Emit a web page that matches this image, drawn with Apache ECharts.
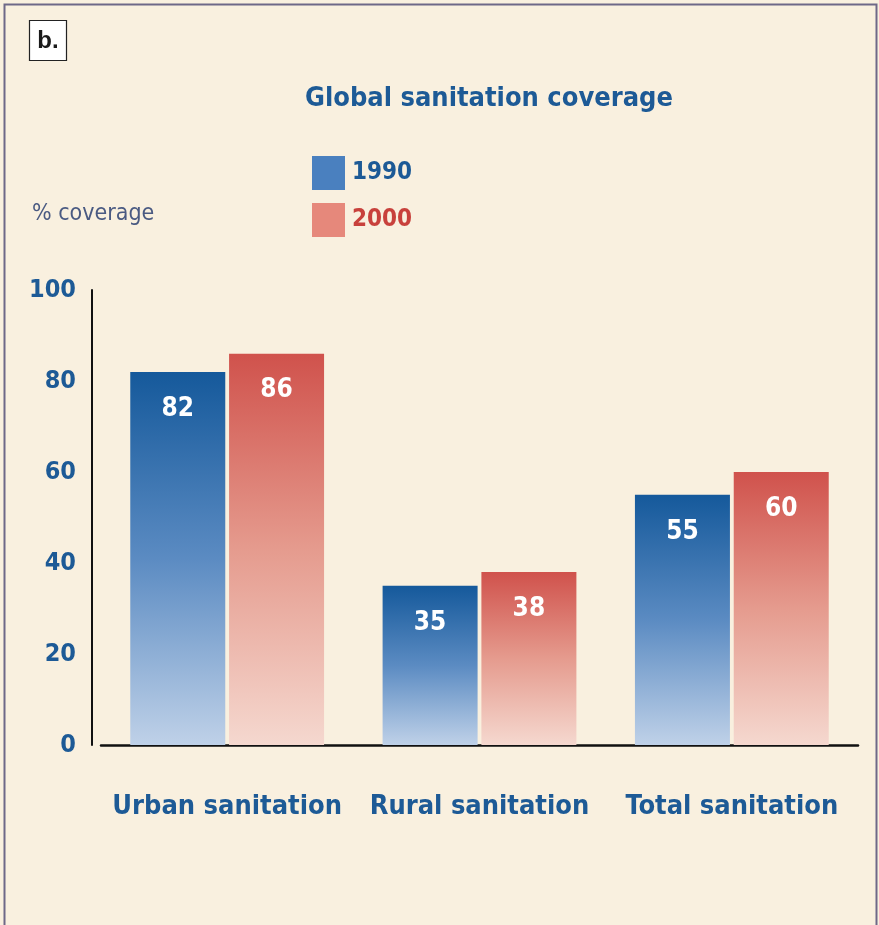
<!DOCTYPE html>
<html>
<head>
<meta charset="utf-8">
<script src="https://cdn.jsdelivr.net/npm/echarts@6/dist/echarts.min.js"></script>
<style>
  html, body { margin: 0; padding: 0; background: #f7c9c0; }
  #chart { width: 879px; height: 925px; }
</style>
</head>
<body>
<div id="chart"></div>
<script>
// Global sanitation coverage, % of population
const categories = ['Urban sanitation', 'Rural sanitation', 'Total sanitation'];
const seriesNames = ['1990', '2000'];
const values1990 = [82, 35, 55];
const values2000 = [86, 38, 60];
const yTicks = [0, 20, 40, 60, 80, 100];

const FONT = '"DejaVu Sans Condensed", "Liberation Sans Narrow", "Roboto Condensed", sans-serif';
const BLUE = '#1d5a96';
const RED = '#c8413c';

const blueGrad = new echarts.graphic.LinearGradient(0, 0, 0, 1, [
  { offset: 0, color: '#15599b' },
  { offset: 0.5, color: '#5b8bc2' },
  { offset: 1, color: '#bfd1e8' }
]);
const redGrad = new echarts.graphic.LinearGradient(0, 0, 0, 1, [
  { offset: 0, color: '#d0524c' },
  { offset: 0.5, color: '#e59b8e' },
  { offset: 1, color: '#f5d8cf' }
]);

const chart = echarts.init(document.getElementById('chart'), null, { renderer: 'canvas' });

const barLabel = {
  show: true,
  position: 'insideTop',
  distance: 24,
  color: '#ffffff',
  fontFamily: FONT,
  fontWeight: 'bold',
  fontSize: 26
};

chart.setOption({
  backgroundColor: '#f9f0df',
  animation: false,
  title: {
    text: 'Global sanitation coverage',
    left: 484,
    top: 80,
    textAlign: 'center',
    textStyle: { color: BLUE, fontFamily: FONT, fontWeight: 'bold', fontSize: 27 }
  },
  legend: {
    data: [
      { name: seriesNames[0], itemStyle: { color: '#4a80bf' } },
      { name: seriesNames[1], itemStyle: { color: '#e6887b' } }
    ],
    orient: 'vertical',
    left: 307,
    top: 151,
    itemWidth: 33,
    itemHeight: 34,
    itemGap: 13,
    icon: 'rect',
    formatter: n => n === '1990' ? '{b|' + n + '}' : '{r|' + n + '}',
    textStyle: {
      rich: {
        b: { color: BLUE, fontFamily: FONT, fontWeight: 'bold', fontSize: 24, padding: [0, 0, 0, 2] },
        r: { color: RED, fontFamily: FONT, fontWeight: 'bold', fontSize: 24, padding: [0, 0, 0, 2] }
      }
    }
  },
  grid: { left: 101, right: 21, top: 290, bottom: 180 },
  xAxis: {
    type: 'category',
    data: categories,
    axisLine: { show: true, lineStyle: { color: '#111', width: 2.5 } },
    axisTick: { show: false },
    axisLabel: {
      interval: 0,
      color: BLUE, fontFamily: FONT, fontWeight: 'bold', fontSize: 27,
      margin: 48
    }
  },
  yAxis: {
    type: 'value',
    min: 0,
    max: 100,
    interval: 20,
    offset: 9,
    name: '% coverage',
    nameLocation: 'end',
    nameGap: 64,
    nameTextStyle: {
      color: '#4a5a82', fontFamily: FONT, fontSize: 23, align: 'left',
      padding: [0, 0, 0, -60]
    },
    axisLine: { show: true, lineStyle: { color: '#111', width: 2 } },
    axisTick: { show: false },
    splitLine: { show: false },
    axisLabel: {
      color: BLUE, fontFamily: FONT, fontWeight: 'bold', fontSize: 25,
      margin: 16,
      verticalAlign: 'middle'
    }
  },
  series: [
    {
      name: seriesNames[0],
      type: 'bar',
      data: values1990,
      barWidth: 95,
      barGap: '4%',
      itemStyle: { color: blueGrad },
      label: barLabel
    },
    {
      name: seriesNames[1],
      type: 'bar',
      data: values2000,
      barWidth: 95,
      barGap: '4%',
      itemStyle: { color: redGrad },
      label: barLabel
    }
  ],
  graphic: [
    {
      type: 'rect',
      shape: { x: 4.5, y: 4.5, width: 872, height: 925 },
      style: { fill: 'none', stroke: '#6e6888', lineWidth: 2 },
      silent: true
    },
    {
      type: 'rect',
      shape: { x: 29.5, y: 20.5, width: 37, height: 40 },
      style: { fill: '#ffffff', stroke: '#222', lineWidth: 1.2 }
    },
    {
      type: 'text',
      x: 48, y: 41,
      style: {
        text: 'b.', fill: '#1a1a1a', fontFamily: '"Liberation Sans", Arial, sans-serif',
        fontWeight: 'bold', fontSize: 24, align: 'center', verticalAlign: 'middle'
      }
    }
  ]
});
</script>
</body>
</html>
